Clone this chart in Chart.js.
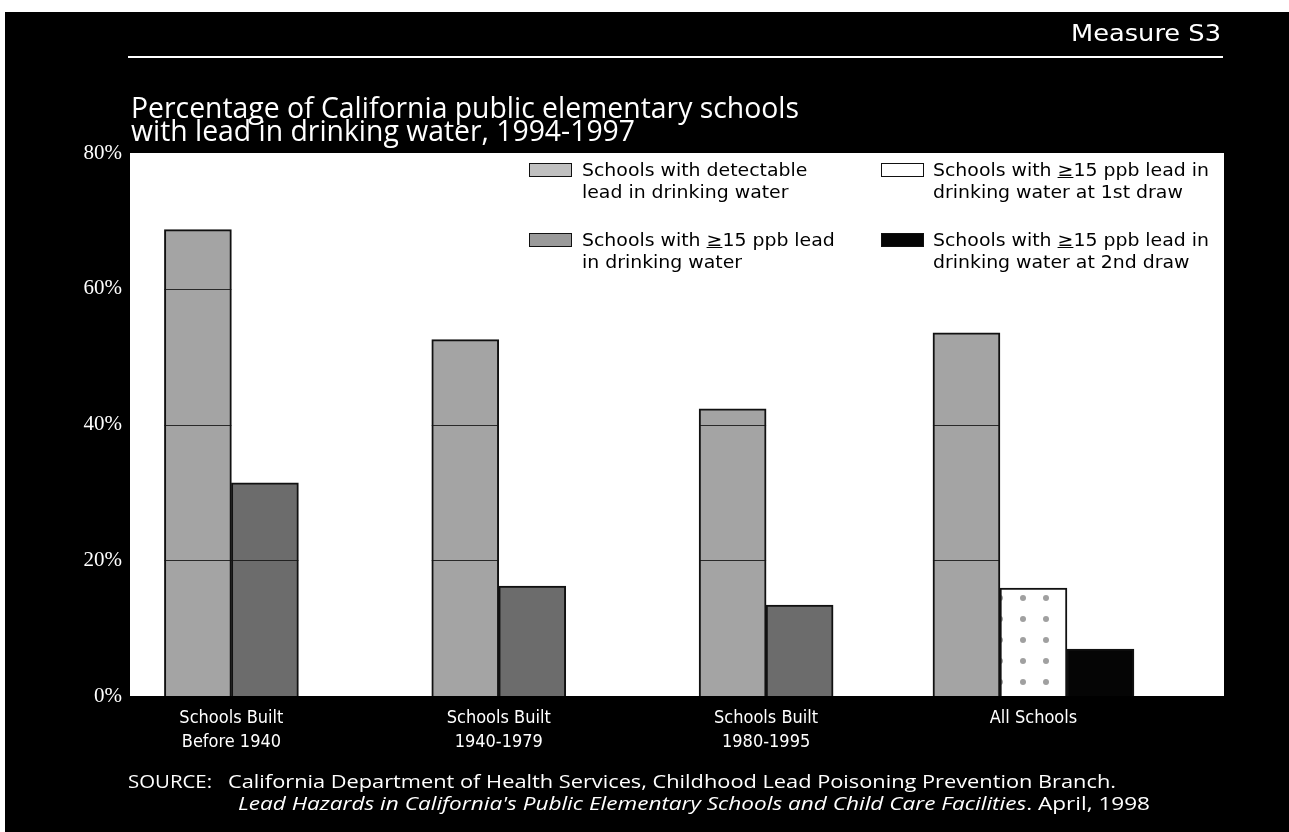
<!DOCTYPE html>
<html><head><meta charset="utf-8">
<script src="https://cdn.jsdelivr.net/npm/chart.js@4.4.1/dist/chart.umd.min.js"></script>
<style>
html,body{margin:0;padding:0;background:#fff;width:1289px;height:832px;overflow:hidden;}
#bg{position:absolute;left:5px;top:12px;right:0;bottom:0;background:#000;}
#chart{position:absolute;left:0;top:0;}
.t{position:absolute;color:#fff;white-space:nowrap;transform-origin:0 0;}
.t span{display:inline-block;transform-origin:0 0;}
#measure{left:1071px;top:20px;font:23px "DejaVu Sans", Lato, sans-serif;}
#rule{position:absolute;left:128px;top:56px;width:1095px;height:2px;background:#fff;}
#title{left:131px;top:95px;font:29px "Open Sans", sans-serif;line-height:23px;}
#title div{height:23px;}
#source{left:0;top:770px;font:19px "Open Sans", sans-serif;line-height:22px;}
#source div{position:absolute;}
#legend{position:absolute;left:0;top:0;}
.sw{position:absolute;width:43px;height:14px;border:1px solid #111;box-sizing:border-box;}
.lt{position:absolute;font:18px "DejaVu Sans", Lato, sans-serif;line-height:22px;color:#000;white-space:nowrap;}
.lt span{display:inline-block;transform-origin:0 0;}
</style></head>
<body>
<div id="bg"></div>
<canvas id="chart" width="1289" height="832"></canvas>
<div id="measure" class="t"><span id="ms">Measure S3</span></div>
<div id="rule"></div>
<div id="title" class="t"><div><span id="tl1">Percentage of California public elementary schools</span></div><div><span id="tl2">with lead in drinking water, 1994-1997</span></div></div>
<div id="legend"></div>
<div id="source" class="t">
  <div style="top:0;left:128px"><span id="slab">SOURCE:</span></div>
  <div style="top:0;left:228px"><span id="s1">California Department of Health Services, Childhood Lead Poisoning Prevention Branch.</span></div>
  <div style="top:22px;left:238px"><span id="s2"><i>Lead Hazards in California's Public Elementary Schools and Child Care Facilities</i>. April, 1998</span></div>
</div>
<script>
// ---- data ----
const categories = [["Schools Built", "Before 1940"], ["Schools Built", "1940-1979"], ["Schools Built", "1980-1995"], ["All Schools"]];
const seriesNames = [
  ["Schools with detectable", "lead in drinking water"],
  ["Schools with \u226515 ppb lead", "in drinking water"],
  ["Schools with \u226515 ppb lead in", "drinking water at 1st draw"],
  ["Schools with \u226515 ppb lead in", "drinking water at 2nd draw"]
];
const detectable = [68.7, 52.5, 42.3, 53.5];
const ppb15 = [31.4, 16.2, 13.4, null];
const firstDraw = [null, null, null, 15.9];
const secondDraw = [null, null, null, 6.9];
const yTicks = [0, 20, 40, 60, 80];

// ---- styles ----
function dotPattern() {
  const c = document.createElement('canvas');
  c.width = 23; c.height = 21;
  const g = c.getContext('2d');
  g.fillStyle = '#fff'; g.fillRect(0, 0, 23, 21);
  g.fillStyle = '#a0a0a0';
  g.beginPath(); g.arc(11, 10, 3, 0, Math.PI * 2); g.fill();
  return g.createPattern(c, 'repeat');
}
const fills = ['#a4a4a4', '#6c6c6c', dotPattern(), '#050505'];
const swatchCss = ['#c0c0c0', '#9a9a9a', '#fff', '#050505'];
const seriesValues = [detectable, ppb15, firstDraw, secondDraw];

const datasets = seriesValues.map((vals, i) => ({
  label: seriesNames[i].join(' '),
  data: vals.map((v, j) => ({ x: j + 1, y: v })),
  backgroundColor: fills[i],
  borderColor: '#111',
  borderWidth: 2,
  barThickness: 67,
  skipNull: true
}));

const plotBg = {
  id: 'plotBg',
  beforeDraw(chart) {
    const a = chart.chartArea, ctx = chart.ctx;
    ctx.save(); ctx.fillStyle = '#fff';
    ctx.fillRect(a.left, a.top, a.right - a.left, a.bottom - a.top);
    ctx.restore();
  }
};
const barRules = {
  id: 'barRules',
  afterDatasetsDraw(chart) {
    const ctx = chart.ctx, ys = chart.scales.y;
    ctx.save(); ctx.strokeStyle = 'rgba(20,20,20,0.85)'; ctx.lineWidth = 1;
    chart.data.datasets.forEach((ds, di) => {
      if (di > 1) return;
      chart.getDatasetMeta(di).data.forEach((el, k) => {
        const v = ds.data[k].y;
        if (v == null) return;
        yTicks.forEach(t => {
          if (t > 0 && t < v) {
            const py = Math.round(ys.getPixelForValue(t)) + 0.5;
            ctx.beginPath();
            ctx.moveTo(el.x - el.width / 2, py);
            ctx.lineTo(el.x + el.width / 2, py);
            ctx.stroke();
          }
        });
      });
    });
    ctx.restore();
  }
};

new Chart(document.getElementById('chart'), {
  type: 'bar',
  data: { datasets },
  options: {
    responsive: false,
    animation: false,
    layout: { padding: { top: 153, right: 65, left: 0, bottom: 0 } },
    plugins: { legend: { display: false }, tooltip: { enabled: false } },
    scales: {
      x: {
        type: 'linear', min: 0.6207, max: 4.7127, offset: false,
        grid: { display: false, drawTicks: false }, border: { display: false },
        afterFit(s) { s.height = 136; },
        ticks: {
          stepSize: 1, includeBounds: false, autoSkip: false, maxRotation: 0, padding: 11,
          color: '#fff', font: { family: '"DejaVu Sans Condensed", "Open Sans", sans-serif', size: 18, lineHeight: 1.3 },
          callback: v => Number.isInteger(v) && categories[v - 1] ? categories[v - 1] : ''
        }
      },
      y: {
        min: 0, max: 80,
        grid: { display: false, drawTicks: false }, border: { display: false },
        afterFit(s) { s.width = 130; },
        afterBuildTicks(s) { s.ticks = yTicks.map(v => ({ value: v })); },
        ticks: {
          padding: 8, color: '#fff',
          font: { family: '"Liberation Serif", "DejaVu Serif", serif', size: 21 },
          callback: v => v + '%'
        }
      }
    }
  },
  plugins: [plotBg, barRules]
});

// ---- legend (HTML), two columns: left = series 0,1 ; right = series 2,3 ----
const legendPos = [
  { sx: 529, sy: 163, tx: 582, ty: 159 },
  { sx: 529, sy: 233, tx: 582, ty: 229 },
  { sx: 881, sy: 163, tx: 933, ty: 159 },
  { sx: 881, sy: 233, tx: 933, ty: 229 }
];
const legend = document.getElementById('legend');
const legendSpans = [];
seriesNames.forEach((lines, i) => {
  const p = legendPos[i];
  const sw = document.createElement('div');
  sw.className = 'sw';
  sw.style.left = p.sx + 'px'; sw.style.top = p.sy + 'px';
  sw.style.background = swatchCss[i];
  legend.appendChild(sw);
  const tx = document.createElement('div');
  tx.className = 'lt';
  tx.style.left = p.tx + 'px'; tx.style.top = p.ty + 'px';
  tx.innerHTML = lines.map(l => '<div><span>' + l.replace('\u2265', '<u>\u2265</u>') + '</span></div>').join('');
  legend.appendChild(tx);
  tx.querySelectorAll('span').forEach(s => legendSpans.push(s));
});

function fitX(el, w) {
  const nw = el.getBoundingClientRect().width;
  el.style.transform = 'scaleX(' + (w / nw) + ')';
  return w / nw;
}
const sL = fitX(legendSpans[4], 276);
legendSpans.forEach(s => { s.style.transform = 'scaleX(' + sL + ')'; });
const sT = fitX(document.getElementById('tl1'), 668);
document.getElementById('tl2').style.transform = 'scaleX(' + sT + ')';
fitX(document.getElementById('ms'), 150);
fitX(document.getElementById('s1'), 888);
fitX(document.getElementById('s2'), 912);
fitX(document.getElementById('slab'), 84);
</script>
</body></html>
